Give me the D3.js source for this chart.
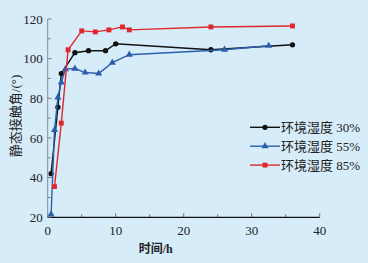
<!DOCTYPE html>
<html><head><meta charset="utf-8">
<script src="https://cdn.jsdelivr.net/npm/d3@7"></script>
<style>
html,body{margin:0;padding:0;background:#d6ecf9;}
svg{display:block;}
text{font-family:"Liberation Serif","Noto Sans CJK SC",serif;fill:#222;}
</style></head><body>
<svg id="c" width="368" height="263"></svg>
<script>
const seriesNames = ["环境湿度 30%", "环境湿度 55%", "环境湿度 85%"];
const seriesColors = ["#111111", "#2b5fae", "#e0282c"];
const seriesSymbols = ["circle", "triangle", "square"];
const x30 = [0.5, 1.5, 2, 4, 6, 8.5, 10, 24, 36];
const y30 = [42, 75.5, 92.5, 103, 104, 104, 107.5, 104.5, 107];
const x55 = [0.5, 1, 1.5, 2, 2.6, 4, 5.5, 7.5, 9.5, 12, 26, 32.5];
const y55 = [21.5, 64, 80.5, 88, 94.7, 95, 93, 92.5, 98, 102, 104.5, 106.5];
const x85 = [1, 2, 3, 5, 7, 9, 11, 12, 24, 36];
const y85 = [35.5, 67.5, 104.5, 114, 113.5, 114.5, 116, 114.5, 116, 116.5];
const xTicks = [0, 10, 20, 30, 40];
const yTicks = [20, 40, 60, 80, 100, 120];
const xLabel = "时间/h";
const yLabel = "静态接触角/(°)";

const svg = d3.select("#c");
const x = d3.scaleLinear().domain([0, 40]).range([47.7, 319.7]);
const y = d3.scaleLinear().domain([20, 120]).range([217.3, 19]);

// x axis
const gx = svg.append("g").attr("transform", `translate(0,${y(20)})`);
gx.append("line").attr("x1", x(0)).attr("x2", x(40)).attr("stroke", "#111").attr("stroke-width", 1.2);
d3.range(0, 41, 5).forEach(v => {
  gx.append("line").attr("x1", x(v)).attr("x2", x(v)).attr("y1", 0).attr("y2", v % 10 === 0 ? -4 : -3)
    .attr("stroke", "#555").attr("stroke-width", 0.8);
});
xTicks.forEach(v => {
  gx.append("text").attr("x", x(v)).attr("y", 18).attr("text-anchor", "middle")
    .style("font-size", "13px").text(v);
});
// y axis
const gy = svg.append("g").attr("transform", `translate(${x(0)},0)`);
gy.append("line").attr("y1", y(20)).attr("y2", y(120)).attr("stroke", "#8a8a8a").attr("stroke-width", 1);
d3.range(20, 121, 10).forEach(v => {
  gy.append("line").attr("x1", 0).attr("x2", v % 20 === 0 ? 4 : 3).attr("y1", y(v)).attr("y2", y(v))
    .attr("stroke", "#666").attr("stroke-width", 0.8);
});
yTicks.forEach(v => {
  gy.append("text").attr("x", -5).attr("y", y(v)).attr("dy", "0.35em").attr("text-anchor", "end")
    .style("font-size", "13px").text(v);
});
svg.append("text").attr("x", x(20) - 28).attr("y", 253).attr("text-anchor", "middle")
  .style("font-size", "12px").style("font-weight", "bold").text(xLabel);
svg.append("text").attr("transform", "translate(15,116) rotate(-90)").attr("text-anchor", "middle")
  .attr("dy", "0.38em").style("font-size", "13px").text(yLabel);

const data = [[x30, y30], [x55, y55], [x85, y85]];
const sym = {circle: d3.symbolCircle, triangle: d3.symbolTriangle, square: d3.symbolSquare};
const sizes = {circle: 22, triangle: 22, square: 24};
const line = d3.line().x(d => x(d[0])).y(d => y(d[1]));
data.forEach(([xs, ys], i) => {
  const pts = xs.map((v, j) => [v, ys[j]]);
  svg.append("path").datum(pts).attr("d", line).attr("fill", "none")
    .attr("stroke", seriesColors[i]).attr("stroke-width", 1.4);
  svg.selectAll(null).data(pts).enter().append("path")
    .attr("transform", d => `translate(${x(d[0])},${y(d[1])})`)
    .attr("d", d3.symbol().type(sym[seriesSymbols[i]]).size(sizes[seriesSymbols[i]]))
    .attr("fill", seriesColors[i]);
});

// legend
seriesNames.forEach((n, i) => {
  const ly = 127.3 + i * 18.9;
  const g = svg.append("g");
  g.append("line").attr("x1", 250).attr("x2", 280).attr("y1", ly).attr("y2", ly)
    .attr("stroke", seriesColors[i]).attr("stroke-width", 1.4);
  g.append("path").attr("transform", `translate(265,${ly})`)
    .attr("d", d3.symbol().type(sym[seriesSymbols[i]]).size(sizes[seriesSymbols[i]]))
    .attr("fill", seriesColors[i]);
  g.append("text").attr("x", 281).attr("y", ly).attr("dy", "0.35em")
    .style("font-size", "13px").text(n);
});
</script>
</body></html>
